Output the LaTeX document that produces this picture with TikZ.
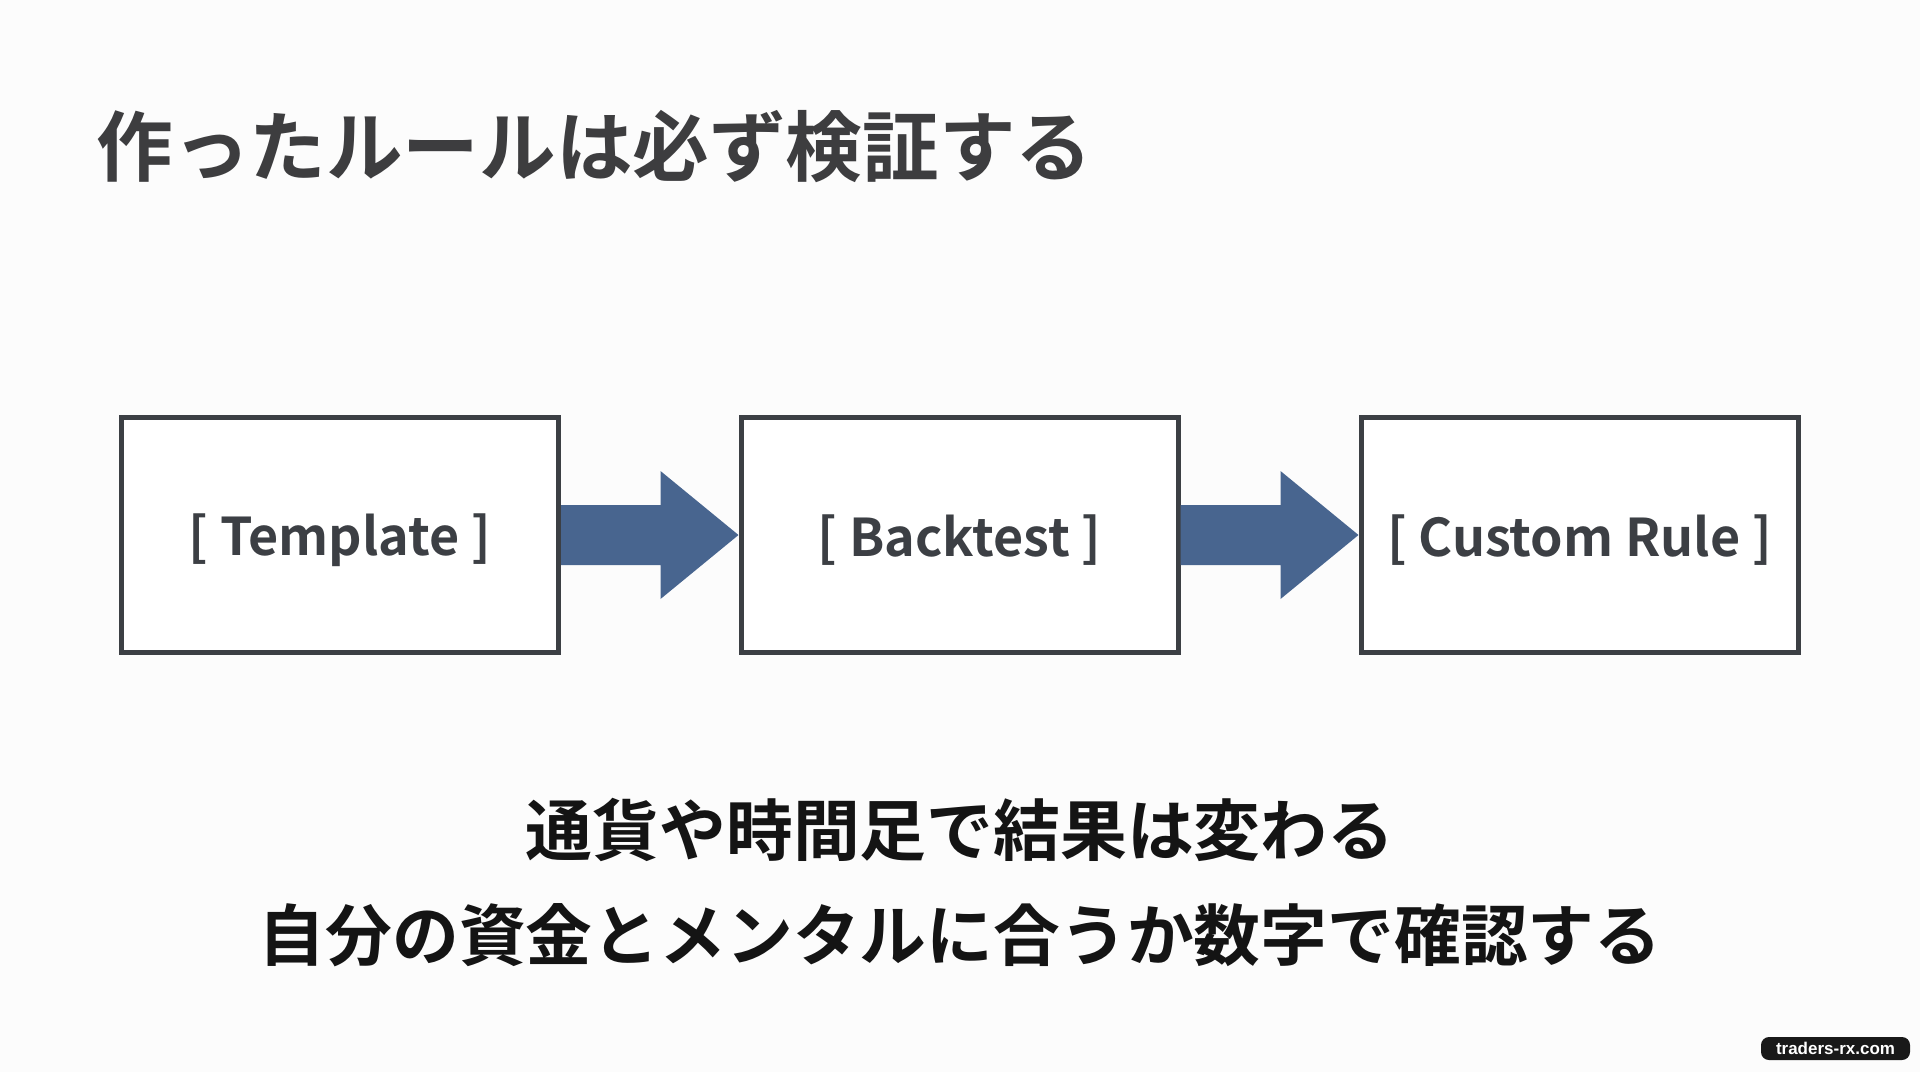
\documentclass[tikz,border=0pt]{standalone}
\usepackage{fontspec}
\setmainfont{Noto Sans CJK JP}[BoldFont={Noto Sans CJK JP Bold}]
\newfontfamily\wmfont{Liberation Sans}[BoldFont={Liberation Sans Bold}]
\usetikzlibrary{calc}
\definecolor{boxc}{HTML}{3C3F44}
\definecolor{titlec}{HTML}{3D3D3F}
\definecolor{flowc}{HTML}{48658F}
\definecolor{bgc}{HTML}{FCFCFC}
\newcommand{\lowerlabel}[1]{\raisebox{-2.5pt}[\height][\depth]{#1}}
\tikzset{
  stagebox/.style={draw=boxc, line width=2.5pt, fill=white, minimum width=218.5pt, minimum height=117.5pt, inner sep=0pt,
    font=\fontsize{26pt}{32pt}\selectfont\bfseries, text=boxc},
  flow/.style={fill=flowc, draw=none},
  titletext/.style={font=\fontsize{38.3pt}{46pt}\selectfont\bfseries, text=titlec, inner sep=0pt},
  bodytext/.style={font=\fontsize{33.4pt}{40pt}\selectfont\bfseries, text=black!92, inner sep=0pt},
  wm/.style={fill=black!90, text=white, rounded corners=4pt, font=\wmfont\fontsize{8.5pt}{10pt}\selectfont\bfseries,
    minimum width=74.5pt, minimum height=11.5pt, inner sep=0pt}
}
\begin{document}
\begin{tikzpicture}[x=0.5pt, y=-0.5pt]
\fill[bgc] (0,0) rectangle (1920,1072);
\useasboundingbox (0,0) rectangle (1920,1072);

\node[titletext, anchor=west] (title) at (96,147) {作ったルールは必ず検証する};

\node[stagebox] (b1) at (340,535) {\lowerlabel{[ Template ]}};
\node[stagebox] (b2) at (959.5,535) {\lowerlabel{[ Backtest ]}};
\node[stagebox] (b3) at (1579.5,535) {\lowerlabel{[ Custom Rule ]}};

\fill[flow] ($(b1.east)+(0,-30)$) -- ($(b2.west)+(-78,-30)$) -- ($(b2.west)+(-78,-64)$) -- (b2.west)
  -- ($(b2.west)+(-78,64)$) -- ($(b2.west)+(-78,30)$) -- ($(b1.east)+(0,30)$) -- cycle;
\fill[flow] ($(b2.east)+(0,-30)$) -- ($(b3.west)+(-78,-30)$) -- ($(b3.west)+(-78,-64)$) -- (b3.west)
  -- ($(b3.west)+(-78,64)$) -- ($(b3.west)+(-78,30)$) -- ($(b2.east)+(0,30)$) -- cycle;

\node[bodytext] (line1) at (960,830) {通貨や時間足で結果は変わる};
\node[bodytext] (line2) at (960,935) {自分の資金とメンタルに合うか数字で確認する};

\node[wm] (mark) at (1835.5,1048.5) {traders-rx.com};
\end{tikzpicture}
\end{document}
